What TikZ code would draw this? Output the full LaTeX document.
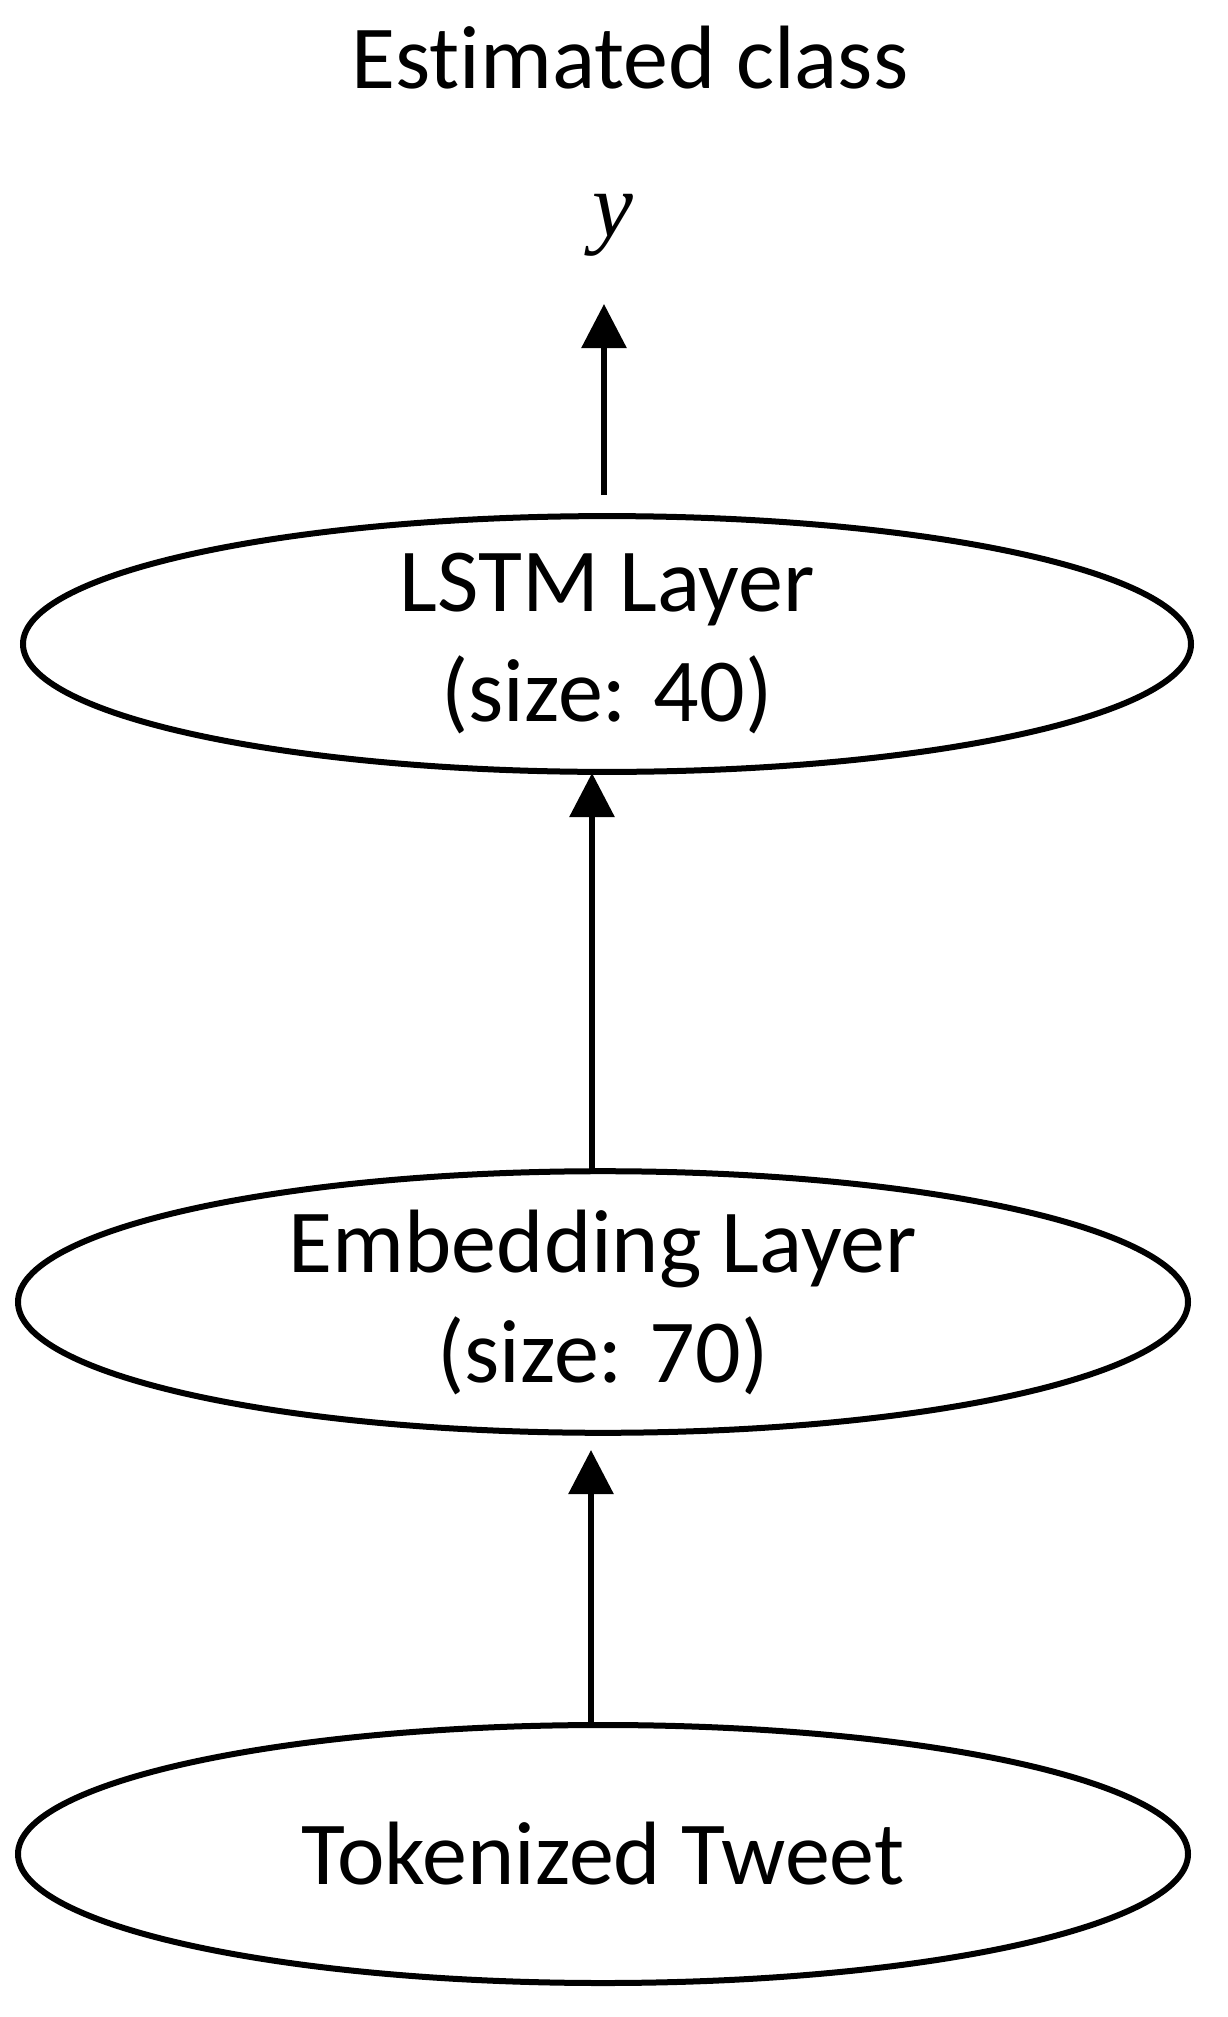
\documentclass[tikz,border=0pt]{standalone}
\usepackage{fontspec}
\setmainfont{Carlito}[Ligatures={NoCommon}]
\newfontfamily\yfont{Liberation Serif}
\usetikzlibrary{shapes.geometric,arrows.meta}
\begin{document}
\begin{tikzpicture}[x=0.5pt,y=-0.5pt,
  layer/.style={draw,line width=3pt,ellipse,inner sep=0pt,align=center,font=\fontsize{45}{55}\selectfont},
  arr/.style={line width=3pt,-{Triangle[width=22pt,length=22pt]}}]
\useasboundingbox (0,0) rectangle (1227,2017);
\node[font=\fontsize{45}{55}\selectfont] (title) at (630,58) {Estimated class};
\node[font=\fontsize{46}{50}\yfont\itshape] (y) at (613,225) {y};
\node[layer,minimum width=584pt,minimum height=122pt] (lstm) at (607,644) {LSTM Layer\\(size: 40)};
\node[layer,minimum width=585pt,minimum height=129pt] (emb) at (603,1302) {Embedding Layer\\(size: 70)};
\node[layer,minimum width=585pt,minimum height=129pt] (tok) at (603,1854) {Tokenized Tweet};
\coordinate (ytop) at (604,304);
\draw[arr] (604,495) -- (ytop);
\draw[arr] (592,1169) -- (592,773);
\draw[arr] (591,1723) -- (591,1450);
\end{tikzpicture}
\end{document}
